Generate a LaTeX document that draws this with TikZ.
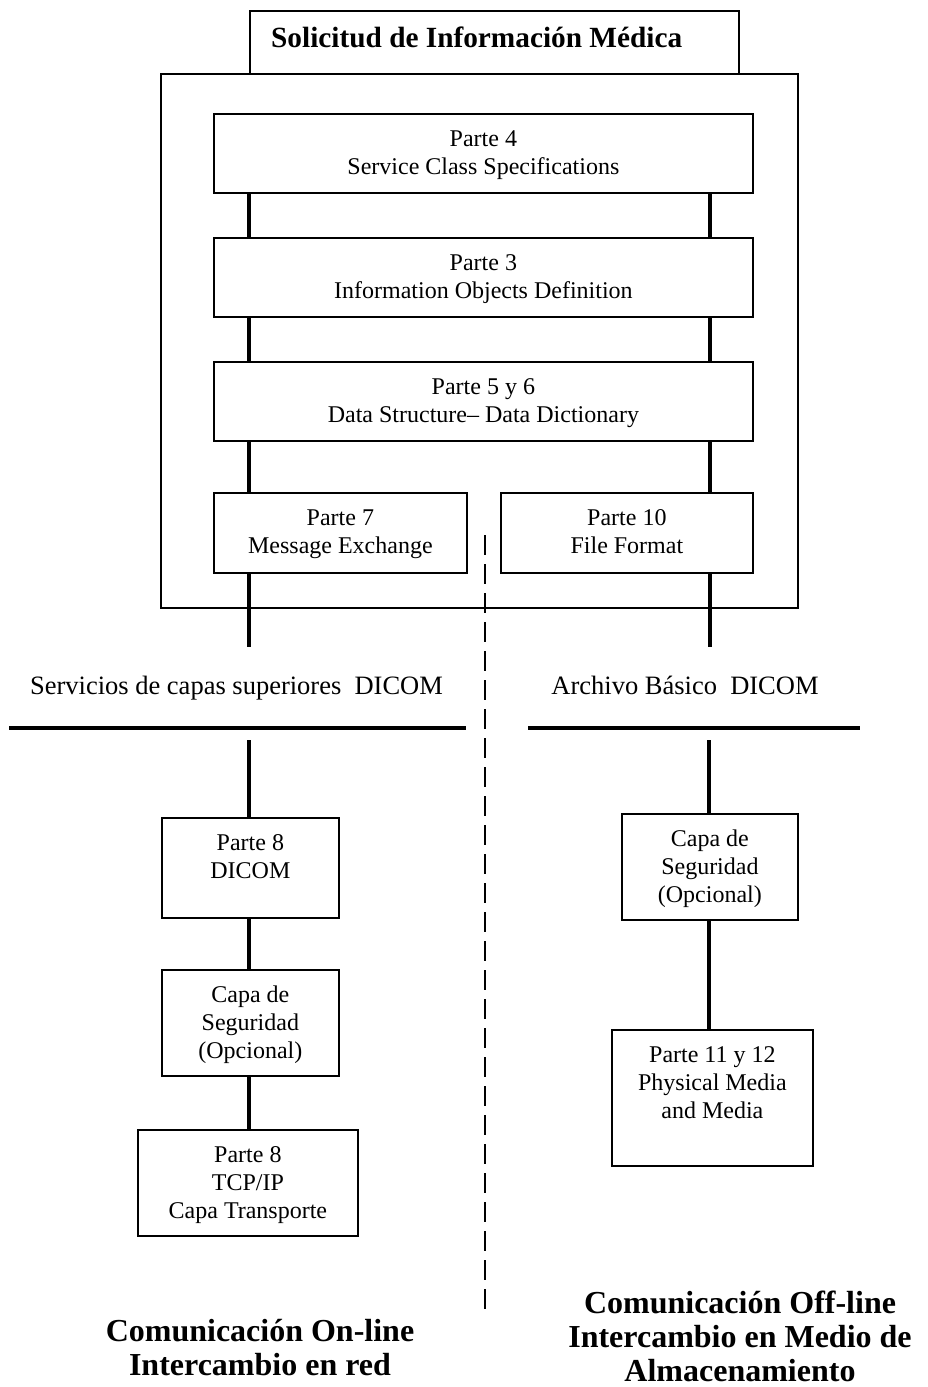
\documentclass[tikz,border=0pt]{standalone}
\usepackage{fontspec}
\setmainfont{Liberation Serif}
\newcommand\boxlines[2]{\parbox[t]{#1}{\centering #2}}
\tikzset{
  frame/.style={draw, line width=1.8pt},
  blk/.style={draw, line width=1.8pt, inner sep=0pt, anchor=north west,
    text height=32.5pt, font=\fontsize{24}{28}\selectfont},
  link/.style={line width=4pt},
  rule/.style={line width=4pt},
  divider/.style={line width=2.5pt, dash pattern=on 20pt off 9pt},
  caption/.style={inner sep=0pt, anchor=base, font=\fontsize{26.5}{30}\selectfont},
  heading/.style={inner sep=0pt, anchor=base, font=\fontsize{32}{34}\selectfont\bfseries},
}
\begin{document}
\begin{tikzpicture}[x=1pt, y=-1pt]
\useasboundingbox (0,0) rectangle (927,1387);

% column positions of the vertical links
\coordinate (colL) at (249,0);
\coordinate (colR) at (710,0);

% title tab and enclosing frame
\node[frame, inner sep=0pt, anchor=north west, minimum width=489pt, minimum height=63pt] (ttl) at (249,10) {};
\node[inner sep=0pt, anchor=base west, font=\fontsize{29.3}{34}\selectfont\bfseries] (ttltext) at (271,47) {Solicitud de Información Médica};
\node[frame, inner sep=0pt, anchor=north west, minimum width=637pt, minimum height=534pt] (outer) at (160,73) {};

% upper layer boxes
\node[blk, text depth=46.5pt] (p4) at (213,113) {\boxlines{539pt}{Parte 4\\Service Class Specifications}};
\node[blk, text depth=46.5pt] (p3) at (213,237) {\boxlines{539pt}{Parte 3\\Information Objects Definition}};
\node[blk, text depth=46.5pt] (p56) at (213,361) {\boxlines{539pt}{Parte 5 y 6\\Data Structure– Data Dictionary}};
\node[blk, text depth=47.5pt] (p7) at (213,492) {\boxlines{253pt}{Parte 7\\Message Exchange}};
\node[blk, text depth=47.5pt] (p10) at (500,492) {\boxlines{252pt}{Parte 10\\File Format}};

% links inside the frame
\draw[link] (p4.south -| colL) -- (p3.north -| colL);
\draw[link] (p4.south -| colR) -- (p3.north -| colR);
\draw[link] (p3.south -| colL) -- (p56.north -| colL);
\draw[link] (p3.south -| colR) -- (p56.north -| colR);
\draw[link] (p56.south -| colL) -- (p7.north -| colL);
\draw[link] (p56.south -| colR) -- (p10.north -| colR);
\coordinate (l7end) at (249,647);
\coordinate (r10end) at (710,647);
\draw[link] (p7.south -| colL) -- (l7end);
\draw[link] (p10.south -| colR) -- (r10end);

% dashed separator between both communication modes
\coordinate (dtop) at (485,535);
\coordinate (dbot) at (485,1316);
\draw[divider] (dtop) -- (dbot);

% service captions and their rules
\node[caption] (lblL) at (236.5,694) {Servicios de capas superiores\ \ DICOM};
\node[caption] (lblR) at (685,694) {Archivo Básico\ \ DICOM};
\coordinate (ruleLa) at (9,728);
\coordinate (ruleLb) at (466,728);
\coordinate (ruleRa) at (528,728);
\coordinate (ruleRb) at (860,728);
\draw[rule] (ruleLa) -- (ruleLb);
\draw[rule] (ruleRa) -- (ruleRb);

% on-line stack
\node[blk, text depth=67.5pt] (p8) at (161,817) {\boxlines{177pt}{Parte 8\\DICOM}};
\node[blk, text depth=73.5pt] (cs1) at (161,969) {\boxlines{177pt}{Capa de\\Seguridad\\(Opcional)}};
\node[blk, text depth=73.5pt] (tcp) at (137,1129) {\boxlines{220pt}{Parte 8\\TCP/IP\\Capa Transporte}};
\coordinate (lstart) at (249,740);
\draw[link] (lstart) -- (lstart |- p8.north);
\draw[link] (p8.south -| colL) -- (cs1.north -| colL);
\draw[link] (cs1.south -| colL) -- (tcp.north -| colL);

% off-line stack
\node[blk, text depth=73.5pt] (cs2) at (621,813) {\boxlines{176pt}{Capa de\\Seguridad\\(Opcional)}};
\node[blk, text depth=103.5pt] (p1112) at (611,1029) {\boxlines{201pt}{Parte 11 y 12\\Physical Media\\and Media}};
\coordinate (rstart) at (709,740);
\draw[link] (rstart) -- (rstart |- cs2.north);
\draw[link] (cs2.south -| rstart) -- (p1112.north -| rstart);

% mode headings
\node[heading] (modeL) at (260,1341) {\boxlines{400pt}{Comunicación On-line\\Intercambio en red}};
\node[heading] (modeR) at (740,1313) {\boxlines{400pt}{Comunicación Off-line\\Intercambio en Medio de\\Almacenamiento}};
\end{tikzpicture}
\end{document}
